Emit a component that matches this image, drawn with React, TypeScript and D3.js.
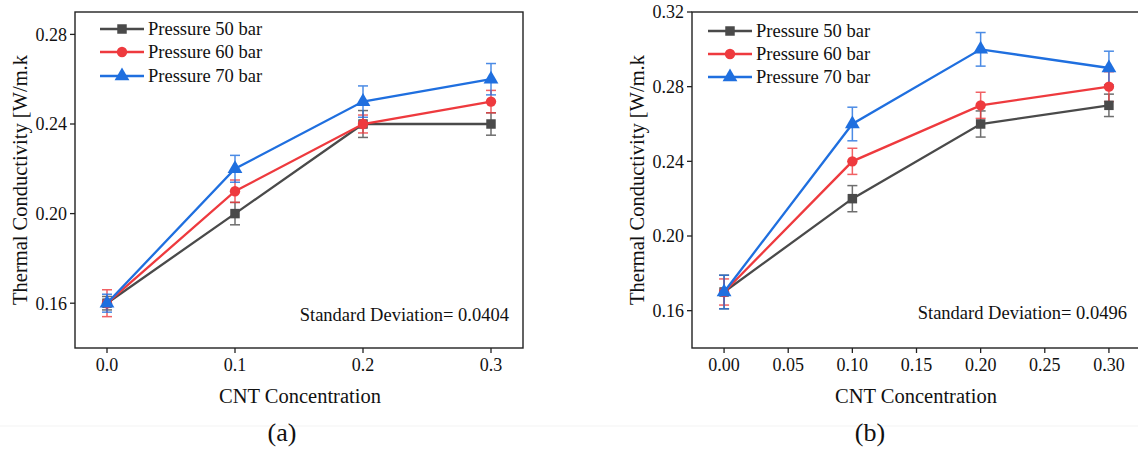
import * as d3 from "d3";

const concA = [0.0, 0.1, 0.2, 0.3];
const concB = [0.0, 0.1, 0.2, 0.3];
const seriesNames = ["Pressure 50 bar", "Pressure 60 bar", "Pressure 70 bar"];
const seriesColors = ["#4a4a4a", "#ee3a3e", "#1f6fdf"];
const seriesSymbols = [d3.symbolSquare, d3.symbolCircle, d3.symbolTriangle];

// panel (a)
const p50a = [0.16, 0.2, 0.24, 0.24];
const p60a = [0.16, 0.21, 0.24, 0.25];
const p70a = [0.16, 0.22, 0.25, 0.26];
const e50a = [0.003, 0.005, 0.006, 0.005];
const e60a = [0.006, 0.005, 0.004, 0.005];
const e70a = [0.004, 0.006, 0.007, 0.007];

// panel (b)
const p50b = [0.17, 0.22, 0.26, 0.27];
const p60b = [0.17, 0.24, 0.27, 0.28];
const p70b = [0.17, 0.26, 0.3, 0.29];
const e50b = [0.009, 0.007, 0.007, 0.006];
const e60b = [0.007, 0.007, 0.007, 0.008];
const e70b = [0.009, 0.009, 0.009, 0.009];

const xTicksA = [0.0, 0.1, 0.2, 0.3];
const yTicksA = [0.16, 0.2, 0.24, 0.28];
const xTicksB = [0.0, 0.05, 0.1, 0.15, 0.2, 0.25, 0.3];
const yTicksB = [0.16, 0.2, 0.24, 0.28, 0.32];

const font = "Liberation Serif";

function Panel({ left, right, yDomain, xs, values, errors, xTicks, yTicks, xFmt, sdText, caption, legendX, legendY, titleX }) {
  const top = 12, bottom = 348;
  const x = d3.scaleLinear().domain([-0.025, 0.325]).range([left, right]);
  const y = d3.scaleLinear().domain(yDomain).range([bottom, top]);
  const line = d3.line<number>().x((_, i) => x(xs[i])).y(d => y(d));
  const cx = (left + Math.min(right, 1138)) / 2;
  const sym = (s: number) => d3.symbol(seriesSymbols[s], s === 1 ? 85 : s === 2 ? 95 : 90)() ?? "";

  return (
    <g style={{ fontFamily: font }} fill="#111">
      {/* frame */}
      <rect x={left} y={top} width={right - left} height={bottom - top} fill="none" stroke="#222" strokeWidth={1.4} />

      {/* y axis */}
      {yTicks.map(t => (
        <g key={"y" + t}>
          <line x1={left - 5} x2={left} y1={y(t)} y2={y(t)} stroke="#222" strokeWidth={1.3} />
          <text x={left - 8} y={y(t)} dy="0.35em" textAnchor="end" fontSize={18} style={{ fontFamily: font }}>{d3.format(".2f")(t)}</text>
        </g>
      ))}
      {/* x axis */}
      {xTicks.map(t => (
        <g key={"x" + t}>
          <line x1={x(t)} x2={x(t)} y1={bottom} y2={bottom + 5} stroke="#222" strokeWidth={1.3} />
          <text x={x(t)} y={bottom + 23} textAnchor="middle" fontSize={18} style={{ fontFamily: font }}>{d3.format(xFmt)(t)}</text>
        </g>
      ))}

      {/* error bars */}
      {values.map((vals, s) => (
        <g key={"e" + s} stroke={seriesColors[s]} strokeWidth={1.5} opacity={0.8}>
          {vals.map((v, i) => {
            const px = x(xs[i]);
            const y0 = y(v - errors[s][i]);
            const y1 = y(v + errors[s][i]);
            return (
              <g key={i}>
                <line x1={px} x2={px} y1={y0} y2={y1} />
                <line x1={px - 5} x2={px + 5} y1={y0} y2={y0} />
                <line x1={px - 5} x2={px + 5} y1={y1} y2={y1} />
              </g>
            );
          })}
        </g>
      ))}

      {/* lines and markers */}
      {values.map((vals, s) => (
        <g key={"s" + s}>
          <path d={line(vals) ?? ""} fill="none" stroke={seriesColors[s]} strokeWidth={2.3} />
          {vals.map((v, i) => (
            <path key={i} transform={`translate(${x(xs[i])},${y(v)})`} d={sym(s)} fill={seriesColors[s]} />
          ))}
        </g>
      ))}

      {/* legend */}
      {seriesNames.map((name, s) => {
        const ly = legendY[s];
        return (
          <g key={"l" + s}>
            <line x1={legendX} x2={legendX + 44} y1={ly} y2={ly} stroke={seriesColors[s]} strokeWidth={2.3} />
            <path transform={`translate(${legendX + 22},${ly})`} d={sym(s)} fill={seriesColors[s]} />
            <text x={legendX + 48} y={ly} dy="0.35em" fontSize={18.5} style={{ fontFamily: font }}>{name}</text>
          </g>
        );
      })}

      <text x={sdText[1]} y={sdText[2]} textAnchor="end" fontSize={18.5} style={{ fontFamily: font }}>{sdText[0]}</text>

      <text transform={`translate(${titleX},${(top + bottom) / 2}) rotate(-90)`} textAnchor="middle" fontSize={20.5} style={{ fontFamily: font }}>Thermal Conductivity [W/m.k</text>
      <text x={cx + 1} y={403} textAnchor="middle" fontSize={20.5} style={{ fontFamily: font }}>CNT Concentration</text>
      <text x={caption[0]} y={441} textAnchor="middle" fontSize={26} style={{ fontFamily: font }}>{caption[1]}</text>
    </g>
  );
}

export default function App() {
  return (
    <svg width={1138} height={450} style={{ position: "absolute", left: 0, top: 0, background: "#fff", fontFamily: font }}>
      <rect width={1138} height={450} fill="#fff" />
      <line x1={0} x2={1138} y1={426} y2={426} stroke="#f3f3f3" strokeWidth={1} />
      <Panel
        left={75} right={523} yDomain={[0.14, 0.29]} xs={concA}
        values={[p50a, p60a, p70a]} errors={[e50a, e60a, e70a]}
        xTicks={xTicksA} yTicks={yTicksA} xFmt=".1f"
        sdText={["Standard Deviation= 0.0404", 509, 321]}
        caption={[282, "(a)"]} legendX={100} legendY={[29, 52, 76]} titleX={27}
      />
      <Panel
        left={692} right={1141} yDomain={[0.14, 0.32]} xs={concB}
        values={[p50b, p60b, p70b]} errors={[e50b, e60b, e70b]}
        xTicks={xTicksB} yTicks={yTicksB} xFmt=".2f"
        sdText={["Standard Deviation= 0.0496", 1127, 319]}
        caption={[870, "(b)"]} legendX={708} legendY={[31, 54, 77]} titleX={644}
      />
    </svg>
  );
}
